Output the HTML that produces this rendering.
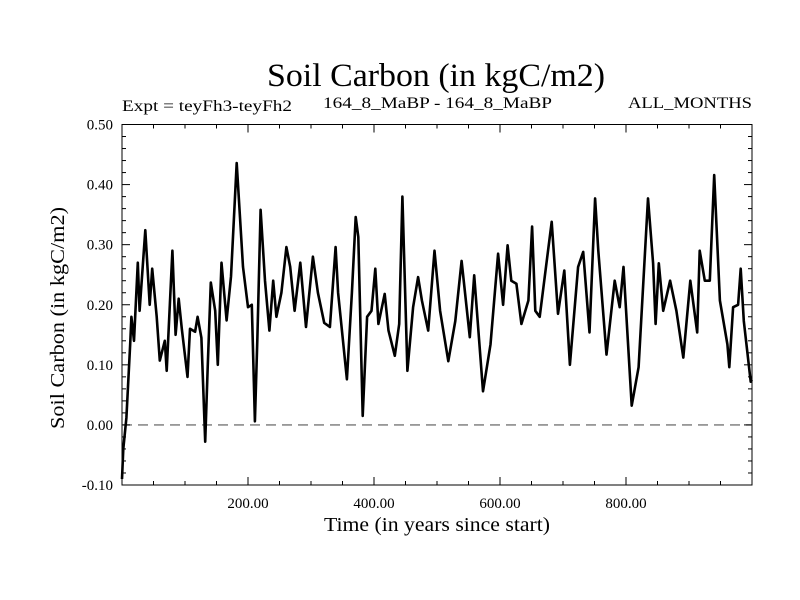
<!DOCTYPE html>
<html><head><meta charset="utf-8"><style>
html,body{margin:0;padding:0;background:#fff;}
svg{display:block;font-family:"Liberation Serif",serif;}
</style></head><body>
<svg id="chart" width="800" height="600" viewBox="0 0 800 600">
<rect width="800" height="600" fill="#fff"/>
<text x="436" y="86" font-size="33" text-anchor="middle" textLength="338" lengthAdjust="spacingAndGlyphs">Soil Carbon (in kgC/m2)</text>
<text x="122" y="111" font-size="16" textLength="170" lengthAdjust="spacingAndGlyphs">Expt = teyFh3-teyFh2</text>
<text x="323" y="108" font-size="16" textLength="229" lengthAdjust="spacingAndGlyphs">164_8_MaBP - 164_8_MaBP</text>
<text x="752" y="108" font-size="16" text-anchor="end" textLength="124" lengthAdjust="spacingAndGlyphs">ALL_MONTHS</text>
<text transform="translate(64,318) rotate(-90)" font-size="20" text-anchor="middle" textLength="222" lengthAdjust="spacingAndGlyphs">Soil Carbon (in kgC/m2)</text>
<text x="437" y="531" font-size="20" text-anchor="middle" textLength="226" lengthAdjust="spacingAndGlyphs">Time (in years since start)</text>
<g id="axes"></g>
<g id="series"></g>
</svg>
<script>
const years=[0,2,7,13,15,19,25,28,37,44,48,55,60,68,71,80,85,90,95,104,108,116,120,126,132,136,141,148,152,158,166,173,182,192,200,206,211,215,220,227,234,240,245,253,261,267,274,283,292,303,311,321,330,339,343,357,365,371,375,382,389,396,402,407,417,423,433,440,445,453,462,470,476,486,496,505,518,529,539,552,559,573,585,597,605,612,618,626,634,645,651,656,663,671,682,692,702,711,724,732,742,751,756,769,782,790,796,809,820,835,843,847,852,859,870,880,891,902,913,917,925,933,940,949,961,964,970,978,982,987,998,1000];
const values=[-0.09,-0.04,0.012,0.135,0.18,0.14,0.27,0.19,0.324,0.20,0.26,0.18,0.107,0.14,0.09,0.29,0.15,0.21,0.16,0.08,0.16,0.155,0.18,0.145,-0.028,0.096,0.237,0.19,0.10,0.27,0.174,0.247,0.436,0.263,0.196,0.20,0.006,0.146,0.358,0.24,0.157,0.24,0.18,0.22,0.296,0.263,0.19,0.27,0.163,0.28,0.22,0.17,0.163,0.296,0.22,0.076,0.22,0.346,0.313,0.015,0.18,0.19,0.26,0.168,0.218,0.157,0.115,0.168,0.38,0.09,0.196,0.246,0.207,0.157,0.29,0.19,0.106,0.173,0.273,0.146,0.249,0.056,0.134,0.285,0.2,0.299,0.24,0.235,0.168,0.207,0.33,0.19,0.18,0.246,0.338,0.185,0.257,0.1,0.263,0.288,0.154,0.377,0.29,0.117,0.24,0.196,0.263,0.032,0.096,0.377,0.269,0.168,0.269,0.19,0.24,0.19,0.112,0.24,0.154,0.29,0.24,0.24,0.416,0.207,0.134,0.096,0.196,0.2,0.26,0.173,0.072,0.075];
const xTickLabels=["200.00","400.00","600.00","800.00"];
const xTickValues=[200,400,600,800];
const yTickLabels=["-0.10","0.00","0.10","0.20","0.30","0.40","0.50"];
const yTickValues=[-0.1,0,0.1,0.2,0.3,0.4,0.5];

const L=122,R=752,T=124.5,B=485;
const xMin=0,xMax=1000,yMin=-0.1,yMax=0.5;
function xs(v){return L+(v-xMin)/(xMax-xMin)*(R-L);}
function ys(v){return B-(v-yMin)/(yMax-yMin)*(B-T);}
const NS="http://www.w3.org/2000/svg";
const axes=document.getElementById('axes');
const series=document.getElementById('series');
function mk(tag,attrs,parent){const e=document.createElementNS(NS,tag);for(const k in attrs)e.setAttribute(k,attrs[k]);parent.appendChild(e);return e;}

const frame=mk('rect',{x:L,y:T,width:R-L,height:B-T,fill:'none',stroke:'#000','stroke-width':1},axes);



const zl=mk('line',{x1:L,x2:R,y1:ys(0),y2:ys(0),stroke:'#777','stroke-width':1.3,'stroke-dasharray':'10,6'},axes);



for(let v=50;v<xMax;v+=50){
  const major=v%200===0;const len=major?8:4;const x=xs(v);
  const t1=mk('line',{x1:x,x2:x,y1:B,y2:B-len,stroke:'#000'},axes);
  
  
  const t2=mk('line',{x1:x,x2:x,y1:T,y2:T+len,stroke:'#000'},axes);
  
  
}
xTickValues.forEach((v,i)=>{
  const t=mk('text',{x:xs(v),y:508,'font-size':15,'text-anchor':'middle'},axes);
  t.textContent=xTickLabels[i];
  
  
});
for(let k=1;k<30;k++){
  const v=yMin+k*0.02;const major=k%5===0;const len=major?8:4;const y=ys(v);
  const t1=mk('line',{x1:L,x2:L+len,y1:y,y2:y,stroke:'#000'},axes);
  
  
  const t2=mk('line',{x1:R,x2:R-len,y1:y,y2:y,stroke:'#000'},axes);
  
  
}
yTickValues.forEach((v,i)=>{
  const t=mk('text',{x:113,y:ys(v)+5,'font-size':15,'text-anchor':'end'},axes);
  t.textContent=yTickLabels[i];
  
  
});

const pts=years.map((yr,i)=>xs(yr).toFixed(1)+','+ys(values[i]).toFixed(1)).join(' ');
const line=mk('polyline',{points:pts,fill:'none',stroke:'#000','stroke-width':2.6,'stroke-linejoin':'round'},series);


</script>
</body></html>
